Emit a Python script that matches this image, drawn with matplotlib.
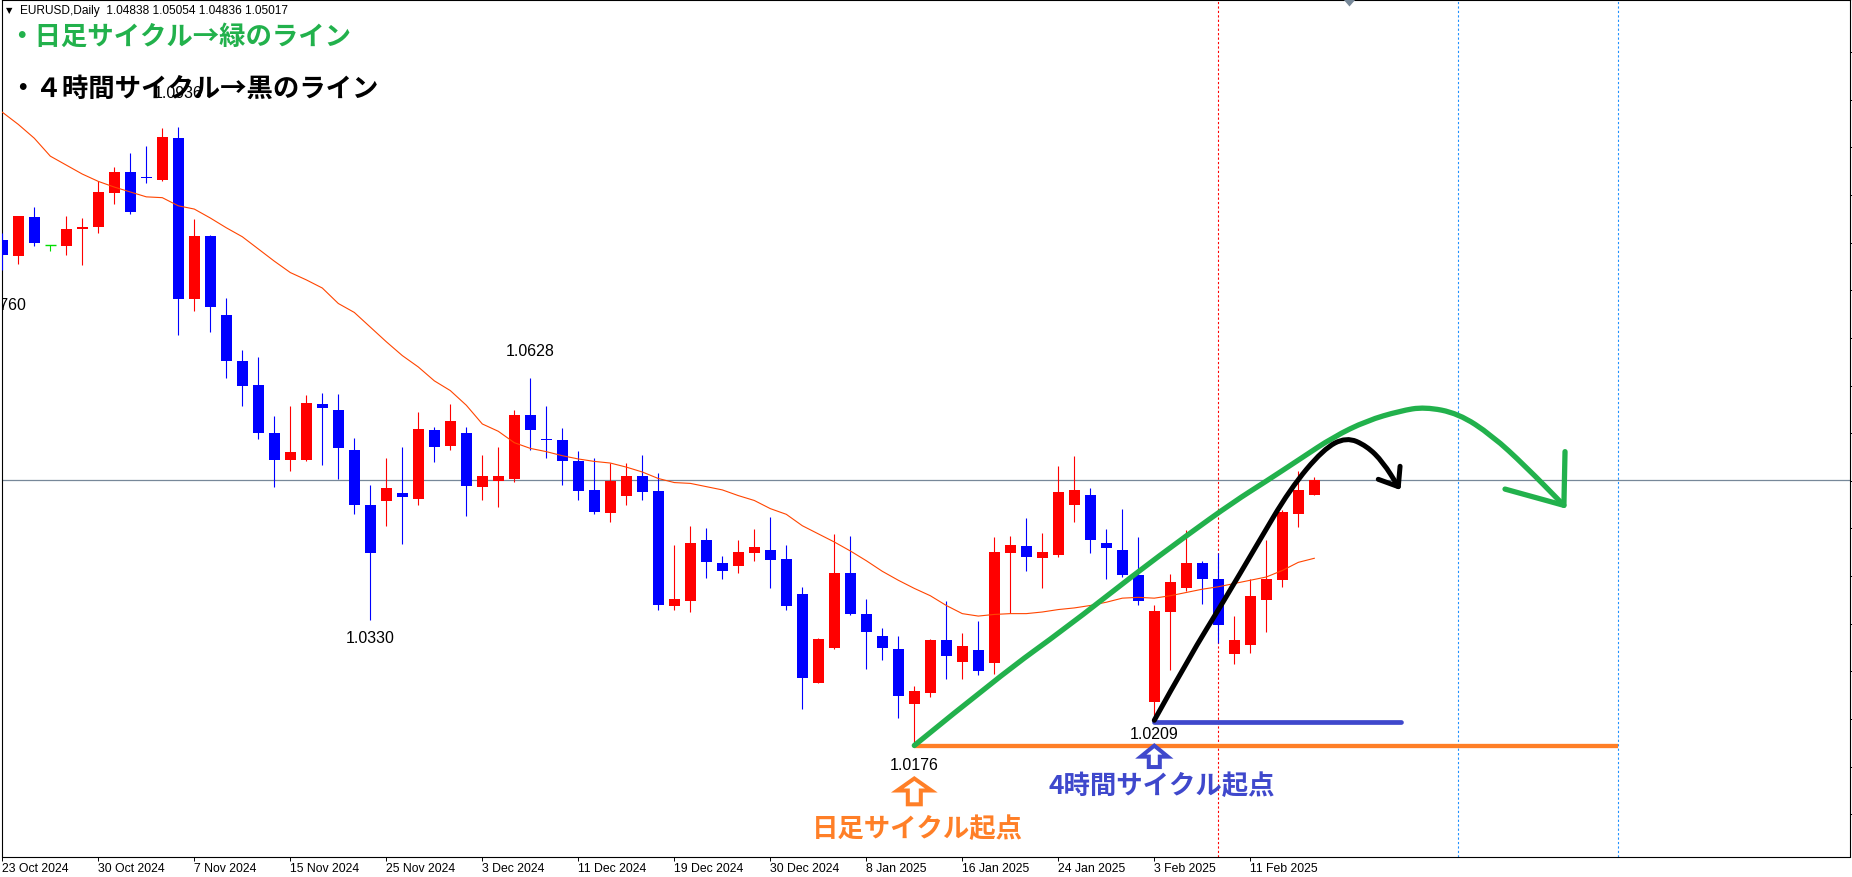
import numpy as np
import matplotlib
matplotlib.use('Agg')
import matplotlib.pyplot as plt
from matplotlib.patches import Polygon, PathPatch
from matplotlib.path import Path
from matplotlib.transforms import ScaledTranslation

plt.rcParams['font.family'] = ['Noto Sans CJK JP', 'DejaVu Sans']

# EURUSD daily candles, bar 0 = 23 Oct 2024, bar 82 = current bar
opens = [1.0797, 1.0777, 1.0825, 1.0791, 1.0790, 1.0811, 1.0813, 1.0855, 1.0881, 1.0875,
         1.0871, 1.0922, 1.0725, 1.0802, 1.0705, 1.0648, 1.0619, 1.0560, 1.0527, 1.0527,
         1.0595, 1.0588, 1.0539, 1.0472, 1.0476, 1.0486, 1.0479, 1.0564, 1.0544, 1.0560,
         1.0494, 1.0501, 1.0504, 1.0582, 1.0553, 1.0551, 1.0526, 1.0490, 1.0462, 1.0483,
         1.0507, 1.0489, 1.0347, 1.0354, 1.0429, 1.0400, 1.0396, 1.0412, 1.0416, 1.0405,
         1.0362, 1.0253, 1.0296, 1.0388, 1.0338, 1.0311, 1.0295, 1.0227, 1.0241, 1.0306,
         1.0278, 1.0293, 1.0277, 1.0413, 1.0421, 1.0406, 1.0410, 1.0472, 1.0484, 1.0425,
         1.0416, 1.0386, 1.0230, 1.0340, 1.0369, 1.0400, 1.0381, 1.0288, 1.0299, 1.0355,
         1.0379, 1.0461, 1.04838]
highs = [1.0806, 1.0827, 1.0837, 1.0791, 1.0826, 1.0824, 1.0869, 1.0887, 1.0904, 1.0913,
         1.0935, 1.0936, 1.0823, 1.0803, 1.0726, 1.0662, 1.0653, 1.0581, 1.0593, 1.0606,
         1.0609, 1.0608, 1.0554, 1.0496, 1.0529, 1.0543, 1.0586, 1.0567, 1.0596, 1.0567,
         1.0533, 1.0543, 1.0588, 1.0628, 1.0593, 1.0566, 1.0538, 1.0529, 1.0523, 1.0523,
         1.0533, 1.0511, 1.0422, 1.0446, 1.0443, 1.0409, 1.0429, 1.0442, 1.0457, 1.0422,
         1.0371, 1.0308, 1.0436, 1.0433, 1.0356, 1.0320, 1.0311, 1.0249, 1.0307, 1.0354,
         1.0314, 1.0329, 1.0432, 1.0433, 1.0456, 1.0437, 1.0519, 1.0532, 1.0492, 1.0442,
         1.0467, 1.0432, 1.0349, 1.0387, 1.0441, 1.0403, 1.0413, 1.0335, 1.0381, 1.0429,
         1.0465, 1.0513, 1.05054]
lows = [1.0760, 1.0768, 1.0790, 1.0784, 1.0779, 1.0766, 1.0806, 1.0841, 1.0829, 1.0867,
        1.0870, 1.0680, 1.0710, 1.0684, 1.0627, 1.0593, 1.0553, 1.0494, 1.0513, 1.0526,
        1.0521, 1.0504, 1.0460, 1.0330, 1.0446, 1.0423, 1.0472, 1.0524, 1.0539, 1.0458,
        1.0478, 1.0469, 1.0500, 1.0539, 1.0529, 1.0496, 1.0478, 1.0461, 1.0451, 1.0472,
        1.0477, 1.0342, 1.0343, 1.0340, 1.0382, 1.0381, 1.0388, 1.0403, 1.0370, 1.0342,
        1.0221, 1.0253, 1.0294, 1.0336, 1.0270, 1.0281, 1.0210, 1.0176, 1.0235, 1.0258,
        1.0258, 1.0263, 1.0264, 1.0339, 1.0390, 1.0370, 1.0408, 1.0451, 1.0412, 1.0380,
        1.0383, 1.0348, 1.0209, 1.0269, 1.0366, 1.0350, 1.0302, 1.0276, 1.0290, 1.0315,
        1.0371, 1.0445, 1.04836]
closes = [1.0778, 1.0826, 1.0793, 1.0791, 1.0811, 1.0813, 1.0856, 1.0881, 1.0832, 1.0873,
          1.0924, 1.0724, 1.0802, 1.0715, 1.0648, 1.0618, 1.0560, 1.0527, 1.0537, 1.0597,
          1.0591, 1.0541, 1.0472, 1.0412, 1.0492, 1.0481, 1.0565, 1.0543, 1.0575, 1.0495,
          1.0507, 1.0507, 1.0582, 1.0564, 1.0551, 1.0525, 1.0489, 1.0463, 1.0501, 1.0507,
          1.0488, 1.0349, 1.0356, 1.0425, 1.0402, 1.0390, 1.0414, 1.0420, 1.0404, 1.0347,
          1.0259, 1.0307, 1.0388, 1.0337, 1.0316, 1.0296, 1.0237, 1.0243, 1.0306, 1.0286,
          1.0298, 1.0267, 1.0414, 1.0422, 1.0407, 1.0414, 1.0487, 1.0490, 1.0428, 1.0419,
          1.0386, 1.0353, 1.0341, 1.0377, 1.0400, 1.0381, 1.0324, 1.0306, 1.0360, 1.0381,
          1.0463, 1.0490, 1.05017]

# moving average as drawn on the chart
ma = [1.0954, 1.0939, 1.0922, 1.0900, 1.0889, 1.0878, 1.0869, 1.0862, 1.0856, 1.0850,
      1.0849, 1.0839, 1.0835, 1.0824, 1.0812, 1.0801, 1.0786, 1.0771, 1.0757, 1.0748,
      1.0738, 1.0719, 1.0708, 1.0690, 1.0672, 1.0655, 1.0641, 1.0624, 1.0612, 1.0594,
      1.0571, 1.0562, 1.0548, 1.0541, 1.0537, 1.0532, 1.0528, 1.0525, 1.0523, 1.0518,
      1.0512, 1.0504, 1.0499, 1.0498, 1.0494, 1.0490, 1.0483, 1.0477, 1.0467, 1.0460,
      1.0446, 1.0436, 1.0426, 1.0415, 1.0403, 1.0390, 1.0379, 1.0369, 1.0360, 1.0348,
      1.0338, 1.0335, 1.0337, 1.0338, 1.0338, 1.0340, 1.0343, 1.0345, 1.0348, 1.0352,
      1.0357, 1.0358, 1.0357, 1.0360, 1.0364, 1.0368, 1.0371, 1.0375, 1.0379, 1.0383,
      1.0391, 1.0401, 1.0406]

date_bars = [0, 6, 12, 18, 24, 30, 36, 42, 48, 54, 60, 66, 72, 78]
date_labels = ['23 Oct 2024', '30 Oct 2024', '7 Nov 2024', '15 Nov 2024', '25 Nov 2024',
               '3 Dec 2024', '11 Dec 2024', '19 Dec 2024', '30 Dec 2024', '8 Jan 2025',
               '16 Jan 2025', '24 Jan 2025', '3 Feb 2025', '11 Feb 2025']

title = 'EURUSD,Daily  1.04838 1.05054 1.04836 1.05017'
bid = 1.05017

# high / low labels
ext_bars = [0, 11, 23, 33, 57, 72]
ext_prices = [1.0760, 1.0936, 1.0330, 1.0628, 1.0176, 1.0209]
ext_offsets = [-25, 24.5, -12.7, 19.4, -14, -10.8]  # points

# hand drawn lines
d1_bar, d1_level, d1_end = 57, 1.0175, 101
h4_bar, h4_level, h4_end = 72, 1.0205, 87.4
green_x = [57.0, 62.36, 66.52, 70.68, 74.02, 76.94, 79.02, 81.11, 83.19, 85.28, 87.36, 88.9, 91.0, 93.1, 95.2, 97.6]
green_y = [1.0176, 1.0262, 1.0321, 1.0385, 1.0434, 1.0475, 1.0501, 1.0528, 1.0555, 1.0575, 1.0587, 1.0592, 1.0584, 1.0557, 1.0519, 1.0471]
green_head_x = [93.92, 97.6, 97.67]
green_head_y = [1.0491, 1.0471, 1.0537]
black_x = [72.0, 74.23, 76.3, 78.4, 80.48, 82.56, 84.0, 85.28, 86.3, 87.25]
black_y = [1.0207, 1.0286, 1.0352, 1.0422, 1.0491, 1.0540, 1.0555, 1.0544, 1.0524, 1.0494]
black_head_x = [86.0, 87.25, 87.36]
black_head_y = [1.0503, 1.0494, 1.0519]

red_vline = 76
blue_vlines = [91, 101]

W, H = 1852, 878
fig = plt.figure(figsize=(W / 100, H / 100), dpi=100)
ax = fig.add_axes([2 / W, 20.5 / H, 1847.5 / W, 857 / H])

ymin, ymax = 1.003964, 1.109244
xmin, xmax = -0.019, 115.45


def px(x, y):
    return x / W, 1 - y / H


# candles
x = np.arange(len(opens))
o = np.array(opens)
c = np.array(closes)
cols = np.where(c > o, '#ff0000', np.where(c < o, '#0000ff', '#00dd00'))
ax.vlines(x, lows, highs, colors=cols, lw=0.8, zorder=3)
body = c != o
ax.bar(x[body], (c - o)[body], bottom=o[body], width=0.66, color=cols[body], linewidth=0, zorder=3)
ax.hlines(c[~body], x[~body] - 0.33, x[~body] + 0.33, colors='#00dd00', lw=1, zorder=3)

ax.plot(x, ma, color='#ff4500', lw=0.8, zorder=4)

# bid line and vertical dotted lines
ax.axhline(bid, color='#778899', lw=0.9, zorder=1)
ax.axvline(red_vline, color='#ff0000', lw=0.8, ls=(0, (2, 2)), zorder=1)
for b in blue_vlines:
    ax.axvline(b, color='#1e90ff', lw=0.8, ls=(0, (2, 2)), zorder=1)

# high / low price labels
for b, p, off in zip(ext_bars, ext_prices, ext_offsets):
    ax.annotate(f'{p:.4f}', (b, p), xytext=(0, off), textcoords='offset points',
                ha='center', va='center', fontsize=11.5, family='Liberation Sans',
                clip_on=True, zorder=2)


def smooth_stroke(xs, ys, color, lw):
    # quadratic bezier through the midpoints, the read points act as control points
    pts = list(zip(xs, ys))
    verts = [pts[0]]
    codes = [Path.MOVETO]
    for i in range(1, len(pts) - 1):
        mid = ((pts[i][0] + pts[i + 1][0]) / 2, (pts[i][1] + pts[i + 1][1]) / 2)
        verts += [pts[i], mid]
        codes += [Path.CURVE3, Path.CURVE3]
    verts.append(pts[-1])
    codes.append(Path.LINETO)
    ax.add_patch(PathPatch(Path(verts, codes), fc='none', ec=color, lw=lw,
                           capstyle='round', joinstyle='round', zorder=6))


# cycle lines
ax.plot([d1_bar, d1_end], [d1_level, d1_level], color='#ff7f27', lw=3.1, solid_capstyle='butt', zorder=5)
ax.plot([h4_bar, h4_end], [h4_level, h4_level], color='#3f48cc', lw=3.4, solid_capstyle='round', zorder=5)
smooth_stroke(green_x, green_y, '#22b14c', 3.8)
ax.plot(green_head_x, green_head_y, color='#22b14c', lw=3.8, solid_capstyle='round', solid_joinstyle='round', zorder=6)
smooth_stroke(black_x, black_y, 'black', 3.6)
ax.plot(black_head_x, black_head_y, color='black', lw=3.6, solid_capstyle='round', solid_joinstyle='round', zorder=6)


def hollow_arrow(bar, price, tip, base, bottom, hh, hs, color):
    verts = [(0, -tip), (hh, -base), (hs, -base), (hs, -bottom),
             (-hs, -bottom), (-hs, -base), (-hh, -base)]
    tr = ScaledTranslation(bar, price, ax.transData)
    ax.add_patch(Polygon(verts, closed=True, transform=tr, fc='white', ec=color,
                         lw=2.9, joinstyle='miter', zorder=7, clip_on=False))


hollow_arrow(d1_bar, 1.0176, 33, 45, 58.8, 17, 6.5, '#ff7f27')
hollow_arrow(h4_bar, 1.0209, 27, 38, 48.4, 13.5, 5.5, '#3f48cc')

ax.annotate('日足サイクル起点', (d1_bar, 1.0176), xytext=(2.3, -59.4), textcoords='offset points',
            ha='center', va='center', color='#ff7f27', fontsize=19, weight='bold', zorder=8)
ax.annotate('4時間サイクル起点', (h4_bar, 1.0209), xytext=(5.5, -47.8), textcoords='offset points',
            ha='center', va='center', color='#3f48cc', fontsize=19, weight='bold', zorder=8)

# chart shift marker at the top
shift_tr = ScaledTranslation(84.2, ymax, ax.transData)
ax.add_patch(Polygon([(-6, 0), (6, 0), (0, -7)], closed=True, transform=shift_tr,
                     fc='#778899', ec='none', zorder=8))

# axes
ax.set_xlim(xmin, xmax)
ax.set_ylim(ymin, ymax)
ax.set_xticks(date_bars)
ax.set_xticklabels(date_labels)
for lab in ax.get_xticklabels():
    lab.set_ha('left')
    lab.set_family('Liberation Sans')
ax.tick_params(axis='x', direction='out', length=2.9, width=0.7, pad=1.4, labelsize=8.8, colors='black')
ax.yaxis.set_ticks_position('right')
ax.set_yticks(np.arange(1.10277, 1.0040, -0.00585))
ax.tick_params(axis='y', direction='out', length=2.2, width=0.7, labelright=False, labelleft=False)
for s in ax.spines.values():
    s.set_linewidth(0.8)
    s.set_color('black')

# top-left texts
fig.text(*px(6, 11), '▼', fontsize=6, family='DejaVu Sans', va='center', ha='left')
fig.text(*px(20.5, 11), title, fontsize=8.6, family='Liberation Sans', va='center', ha='left')
fig.text(*px(8, 37), '・日足サイクル→緑のライン', color='#22b14c', fontsize=19, weight='bold', va='center', ha='left')
fig.text(*px(9, 89), '・４時間サイクル→黒のライン', color='black', fontsize=19, weight='bold', va='center', ha='left')

fig.savefig('out.png', dpi=100)
